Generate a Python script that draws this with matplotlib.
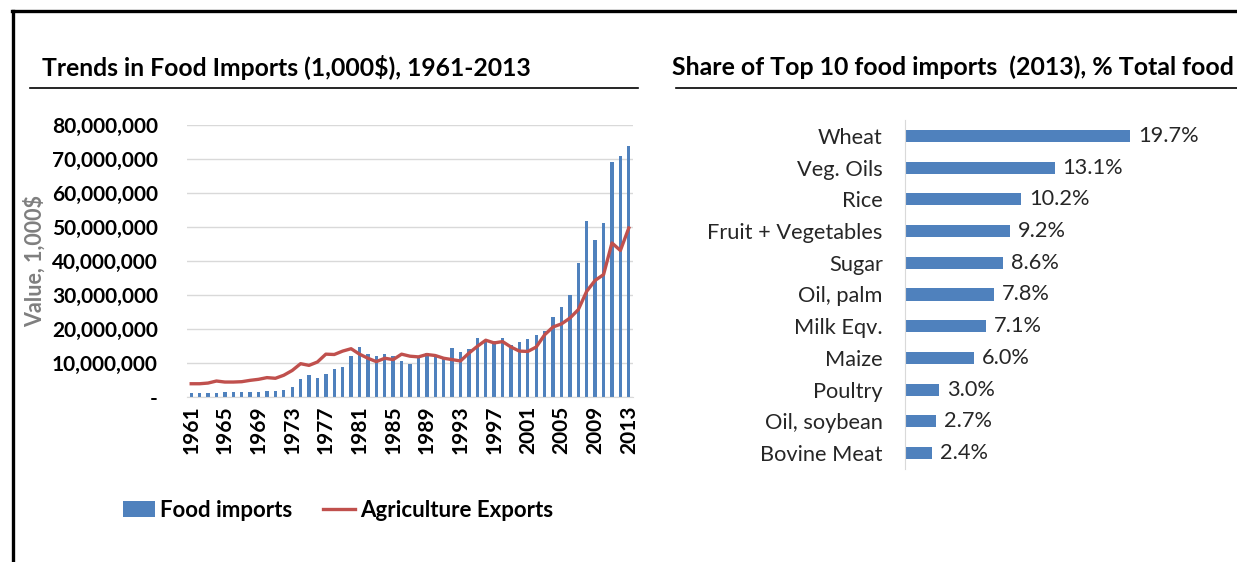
import matplotlib.pyplot as plt
from matplotlib.lines import Line2D
from matplotlib.ticker import FuncFormatter
import numpy as np

plt.rcParams['font.family'] = ['Lato', 'DejaVu Sans']

# food imports and agriculture exports, million 1,000$
years = list(range(1961, 2014))
food_imports = [1.2, 1.2, 1.2, 1.2, 1.5, 1.5, 1.5, 1.5, 1.5, 1.7,
                1.9, 2.2, 2.9, 5.3, 6.5, 5.6, 6.8, 8.1, 8.8, 12.2,
                14.8, 12.6, 12.2, 12.6, 12.0, 10.5, 9.8, 11.5, 12.9, 12.0,
                11.2, 14.3, 13.1, 14.1, 17.3, 16.5, 16.6, 17.3, 15.4, 16.3,
                17.0, 18.3, 19.5, 23.6, 26.6, 30.1, 39.4, 51.9, 46.3, 51.3,
                69.2, 70.9, 73.8]
ag_exports = [3.9, 3.9, 4.1, 4.7, 4.4, 4.4, 4.5, 4.9, 5.2, 5.7,
              5.5, 6.4, 7.8, 9.8, 9.3, 10.3, 12.6, 12.5, 13.5, 14.2,
              12.6, 11.4, 10.4, 11.4, 11.0, 12.6, 12.0, 11.8, 12.5, 12.2,
              11.4, 11.0, 10.6, 12.9, 14.9, 16.7, 15.9, 16.3, 14.7, 13.5,
              13.4, 14.7, 18.3, 20.6, 21.5, 23.2, 25.7, 31.1, 34.3, 36.0,
              45.3, 43.1, 49.7]

# top 10 food imports share (2013)
items = ['Wheat', 'Veg. Oils', 'Rice', 'Fruit + Vegetables', 'Sugar',
         'Oil, palm', 'Milk Eqv.', 'Maize', 'Poultry', 'Oil, soybean',
         'Bovine Meat']
shares = [19.7, 13.1, 10.2, 9.2, 8.6, 7.8, 7.1, 6.0, 3.0, 2.7, 2.4]

W, H = 1237, 562
BLUE = '#4F81BD'
RED = '#C0504D'

fig = plt.figure(figsize=(W / 100, H / 100), dpi=100)


def box(x0, y0, x1, y1):
    # pixel box (top-left origin) -> figure rect
    return [x0 / W, 1 - y1 / H, (x1 - x0) / W, (y1 - y0) / H]


def hline(x0, x1, y, lw, color='black'):
    fig.add_artist(Line2D([x0 / W, x1 / W], [1 - y / H, 1 - y / H],
                          color=color, lw=lw, transform=fig.transFigure))


# outer frame (top and left)
hline(12, W, 11, 2.4)
fig.add_artist(Line2D([13 / W, 13 / W], [1 - 11 / H, 0], color='black',
                      lw=2.4, transform=fig.transFigure))

# titles
fig.text(42 / W, 1 - 67 / H, 'Trends in Food Imports (1,000$), 1961-2013',
         fontsize=17.8, fontweight='bold', va='center', ha='left')
hline(30, 638, 88, 1.2)
fig.text(672 / W, 1 - 67 / H, 'Share of Top 10 food imports  (2013), % Total food',
         fontsize=17.9, fontweight='bold', va='center', ha='left')
hline(676, W, 88, 1.2)

# left chart
ax = fig.add_axes(box(187, 125, 633, 397))
x = np.arange(len(years))
bars = ax.bar(x, np.array(food_imports) * 1e6, width=0.4, color=BLUE,
              label='Food imports', zorder=2)
line, = ax.plot(x, np.array(ag_exports) * 1e6, color=RED, lw=2.4,
                label='Agriculture Exports', zorder=3)
ax.set_xlim(-0.5, len(years) - 0.5)
ax.set_ylim(0, 80e6)
ax.set_yticks(np.arange(0, 80e6 + 1, 10e6))
ax.yaxis.set_major_formatter(FuncFormatter(
    lambda v, p: '-' if v == 0 else f'{int(v):,}'))
ax.grid(axis='y', color='#d9d9d9', lw=1, zorder=0)
ax.set_axisbelow(True)
tick_idx = list(range(0, len(years), 4))
ax.set_xticks(tick_idx)
ax.set_xticklabels([str(years[i]) for i in tick_idx], rotation=90)
for s in ['top', 'right', 'left']:
    ax.spines[s].set_visible(False)
ax.spines['bottom'].set_color('#d9d9d9')
ax.tick_params(length=0)
ax.tick_params(axis='y', pad=21)
ax.tick_params(axis='x', pad=6)
for lab in ax.get_yticklabels() + ax.get_xticklabels():
    lab.set_fontsize(15)
    lab.set_fontweight('bold')
ax.set_ylabel('Value, 1,000$', fontsize=15.5, fontweight='bold',
              color='#7f7f7f', labelpad=4)
leg = ax.legend([bars, line], ['Food imports', 'Agriculture Exports'],
                loc='upper left', bbox_to_anchor=(-0.188, -0.305), ncol=2,
                frameon=False, prop={'size': 16, 'weight': 'bold'},
                handlelength=1.45, handletextpad=0.2, columnspacing=1.4)

# right chart
ax2 = fig.add_axes(box(905, 120, 1200, 469))
y = np.arange(len(items))
ax2.barh(y, shares, height=0.38, color=BLUE)
ax2.set_ylim(len(items) - 0.5, -0.5)
ax2.set_xlim(0, 295 / 11.42)
ax2.set_yticks(y)
ax2.set_yticklabels(items, fontsize=15.7, color='#262626')
ax2.set_xticks([])
for s in ['top', 'right', 'bottom']:
    ax2.spines[s].set_visible(False)
ax2.spines['left'].set_color('#d9d9d9')
ax2.tick_params(length=0, pad=16)
for yi, v in zip(y, shares):
    ax2.text(v + 0.7, yi, f'{v:.1f}%', va='center', ha='left',
             fontsize=15.7, color='#262626')

fig.savefig('out.png', dpi=100)
